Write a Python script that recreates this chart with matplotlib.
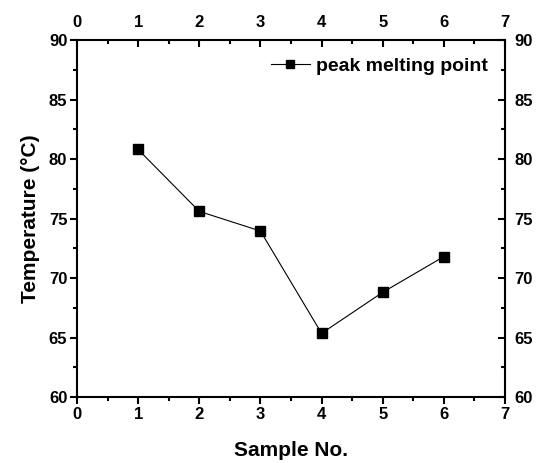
import matplotlib
matplotlib.use("Agg")
from matplotlib import pyplot as plt
from matplotlib.ticker import MultipleLocator

samples = [1, 2, 3, 4, 5, 6]
peak_temp = [80.8, 75.6, 73.95, 65.35, 68.8, 71.8]

plt.rcParams['font.family'] = ['Liberation Sans', 'DejaVu Sans']
plt.rcParams['font.weight'] = 'bold'

fig = plt.figure(figsize=(5.38, 4.63), dpi=100)
ax = fig.add_axes([0.1431, 0.1425, 0.7956, 0.7711])

ax.plot(samples, peak_temp, color='black', lw=0.8, marker='s', ms=7.5,
        label='peak melting point')

ax.set_xlim(0, 7)
ax.set_ylim(60, 90)
ax.xaxis.set_major_locator(MultipleLocator(1))
ax.xaxis.set_minor_locator(MultipleLocator(0.5))
ax.yaxis.set_major_locator(MultipleLocator(5))
ax.yaxis.set_minor_locator(MultipleLocator(2.5))

for s in ax.spines.values():
    s.set_linewidth(1.5)

ax.tick_params(which='both', width=1.5, labelsize=12, pad=2,
               top=True, right=True, labeltop=True, labelright=True)
ax.tick_params(which='major', length=5)
ax.tick_params(which='minor', length=3)
ax.tick_params(axis='x', which='both', direction='out', bottom=True)
ax.tick_params(axis='y', which='both', direction='out', left=True)
# top and right ticks point inward
for t in ax.xaxis.get_major_ticks() + ax.xaxis.get_minor_ticks():
    t.tick2line.set_marker(3)
for t in ax.yaxis.get_major_ticks() + ax.yaxis.get_minor_ticks():
    t.tick2line.set_marker(0)
for lab in ax.get_xticklabels() + ax.get_yticklabels():
    lab.set_fontweight('bold')

ax.set_xlabel('Sample No.', fontsize=15, fontweight='bold', labelpad=14)
ax.set_ylabel('Temperature (°C)', fontsize=15, fontweight='bold', labelpad=6)

ax.legend(loc='upper right', frameon=False, handlelength=2.0, markerscale=0.7,
          handletextpad=0.3, borderaxespad=0.5, prop={'weight': 'bold', 'size': 14})

fig.savefig('out.png', dpi=100)
